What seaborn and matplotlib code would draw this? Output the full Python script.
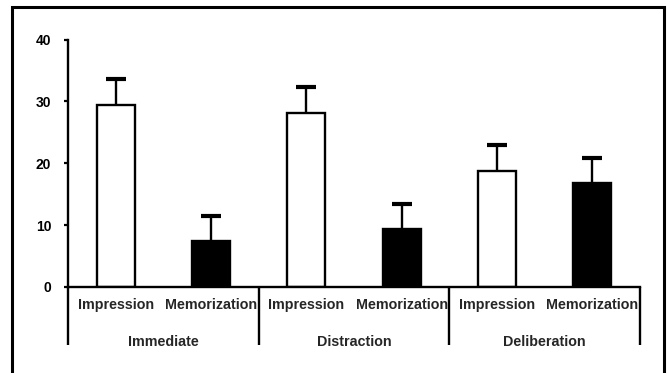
import matplotlib
matplotlib.use("Agg")
import matplotlib.pyplot as plt
import seaborn as sns
import pandas as pd
import numpy as np
from matplotlib.patches import Rectangle

groups = ["Immediate", "Distraction", "Deliberation"]
tasks = ["Impression", "Memorization"]
impression_vals = [29.4, 28.2, 18.8]
impression_err = [4.2, 4.2, 4.2]
memorization_vals = [7.4, 9.3, 16.8]
memorization_err = [4.1, 4.1, 4.0]
yticks = [0, 10, 20, 30, 40]

rows = []
for g, iv, ie, mv, me in zip(groups, impression_vals, impression_err, memorization_vals, memorization_err):
    rows.append({"cond": g + " Impression", "group": g, "task": "Impression", "value": iv, "err": ie})
    rows.append({"cond": g + " Memorization", "group": g, "task": "Memorization", "value": mv, "err": me})
df = pd.DataFrame(rows)

sns.set_theme(style="white")
plt.rcParams["font.family"] = ["Liberation Sans", "DejaVu Sans"]
plt.rcParams["font.weight"] = "bold"

W, H = 667, 373
fig = plt.figure(figsize=(W / 100, H / 100), dpi=100)
left, right = 68 / W, 640 / W
bottom, top = 1 - 287 / H, 1 - 39.5 / H
ax = fig.add_axes([left, bottom, right - left, top - bottom])

sns.barplot(data=df, x="cond", y="value", hue="task", dodge=False, width=0.4,
            palette={"Impression": "white", "Memorization": "black"},
            edgecolor="black", linewidth=1.7, errorbar=None, legend=False, ax=ax, zorder=2)

xs = np.arange(len(df))
eb = ax.errorbar(xs, df["value"], yerr=[np.zeros(len(df)), df["err"]], fmt="none",
                 ecolor="black", elinewidth=1.7, capsize=7.5, capthick=3, zorder=1)
# hide lower caps (they sit on the bar tops)
caplines = eb[1]
if len(caplines) >= 2:
    caplines[0].set_visible(False)

ax.set_xlim(-0.5, len(df) - 0.5)
ax.set_ylim(0, 40)
ax.set_yticks(yticks)
ax.set_yticklabels([str(t) for t in yticks], fontsize=10, fontweight="bold")
ax.set_xticks(xs)
ax.set_xticklabels(df["task"], fontsize=10.3, fontweight="bold")
ax.tick_params(axis="x", length=0, pad=8)
ax.tick_params(axis="y", length=3, width=1.6, direction="out", pad=9, left=True, colors="black")
ax.set_xlabel("")
ax.set_ylabel("")
for s in ["top", "right"]:
    ax.spines[s].set_visible(False)
for s in ["left", "bottom"]:
    ax.spines[s].set_linewidth(1.7)
    ax.spines[s].set_color("black")

# group separators and labels
ydown = -(345 - 287) / (287 - 39.5) * 40
for b in [-0.5, 1.5, 3.5, 5.5]:
    ax.plot([b, b], [0, ydown], color="black", lw=1.7, clip_on=False, solid_capstyle="butt")
ylab = -(346 - 287) / (287 - 39.5) * 40
for i, g in enumerate(groups):
    ax.text(2 * i + 0.5, ylab, g, ha="center", va="baseline", fontsize=10.3,
            fontweight="bold", clip_on=False)

# outer frame
fig.patches.append(Rectangle((12 / W, -0.05), (664 - 12) / W, 1.05 - 7 / H,
                             transform=fig.transFigure, fill=False,
                             edgecolor="black", linewidth=2.2))

fig.savefig("out.png", dpi=100)
